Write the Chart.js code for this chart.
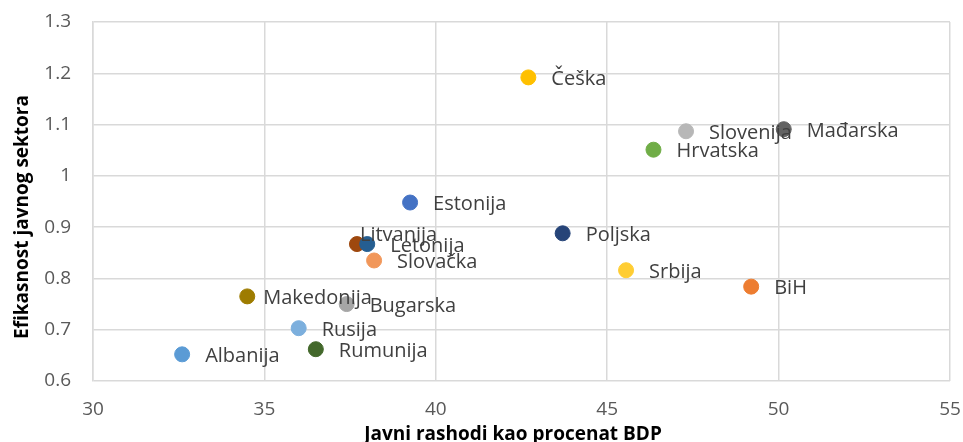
<!DOCTYPE html>
<html>
<head>
<meta charset="utf-8">
<script src="https://cdn.jsdelivr.net/npm/chart.js@4/dist/chart.umd.min.js"></script>
<style>
  html, body { margin: 0; padding: 0; background: #fff; }
  #wrap { width: 963px; height: 442px; }
</style>
</head>
<body>
<div id="wrap"><canvas id="eff"></canvas></div>
<script>
// data
var countries = ["Albanija", "Makedonija", "Rusija", "Rumunija", "Bugarska", "Litvanija", "Letonija", "Slovačka",
                 "Estonija", "Češka", "Poljska", "Srbija", "Hrvatska", "Slovenija", "Mađarska", "BiH"];
var spending = [32.6, 34.5, 36.0, 36.5, 37.4, 37.7, 38.0, 38.2, 39.25, 42.7, 43.7, 45.55, 46.35, 47.3, 50.15, 49.2];
var efficiency = [0.652, 0.765, 0.703, 0.662, 0.75, 0.867, 0.867, 0.835, 0.948, 1.192, 0.888, 0.816, 1.051, 1.087, 1.091, 0.784];
var xTicks = [30, 35, 40, 45, 50, 55];
var yTicks = [0.6, 0.7, 0.8, 0.9, 1, 1.1, 1.2, 1.3];
var xTitle = 'Javni rashodi kao procenat BDP';
var yTitle = 'Efikasnost javnog sektora';

var pointColors = ['#5B9BD5', '#9E7C00', '#7CAFDD', '#43682B', '#A5A5A5', '#9E480E', '#255E91', '#F1975A',
                   '#4472C4', '#FFC000', '#264478', '#FFCD33', '#70AD47', '#B7B7B7', '#636363', '#ED7D31'];

// label nudges (Excel had a couple moved by hand)
var labelShift = { 1: [-7, 0], 5: [-20, -11] };

var pointLabels = {
    id: 'pointLabels',
    afterDatasetsDraw: function (chart) {
        var c = chart.ctx;
        var meta = chart.getDatasetMeta(0);
        c.save();
        c.font = '20px "Open Sans"';
        c.fillStyle = '#404040';
        c.textBaseline = 'middle';
        meta.data.forEach(function (pt, i) {
            var s = labelShift[i] || [0, 0];
            c.fillText(countries[i], pt.x + 23 + s[0], pt.y + 2 + s[1]);
        });
        c.restore();
    }
};

// axis titles drawn by hand, they sit off-centre in the original
var axisTitles = {
    id: 'axisTitles',
    afterDraw: function (chart) {
        var c = chart.ctx;
        c.save();
        c.font = 'bold 19px "Open Sans"';
        c.fillStyle = '#000';
        c.textAlign = 'center';
        c.textBaseline = 'alphabetic';
        c.fillText(xTitle, 513, 440);
        c.translate(28, 217);
        c.rotate(-Math.PI / 2);
        c.fillText(yTitle, 0, 0);
        c.restore();
    }
};

var ctx = document.getElementById('eff').getContext('2d');
var chart = new Chart(ctx, {
    type: 'scatter',
    data: {
        datasets: [{
            data: spending.map(function (x, i) { return { x: x, y: efficiency[i] }; }),
            backgroundColor: pointColors,
            borderColor: pointColors,
            pointRadius: 7.5,
            pointHoverRadius: 7.5
        }]
    },
    plugins: [pointLabels, axisTitles],
    options: {
        responsive: true,
        maintainAspectRatio: false,
        animation: false,
        layout: { padding: { top: 22, right: 13, left: 0, bottom: 0 } },
        plugins: {
            legend: { display: false },
            tooltip: { enabled: false }
        },
        scales: {
            x: {
                type: 'linear',
                min: 30, max: 55,
                afterBuildTicks: function (s) { s.ticks = xTicks.map(function (v) { return { value: v }; }); },
                afterFit: function (s) { s.height = 61; s.paddingLeft = 0; s.paddingRight = 0; },
                grid: { color: '#D9D9D9', lineWidth: 1.5, drawTicks: false },
                border: { display: false },
                ticks: { padding: 17, color: '#595959', font: { family: 'Open Sans', size: 19 } }
            },
            y: {
                min: 0.6, max: 1.3,
                afterBuildTicks: function (s) { s.ticks = yTicks.map(function (v) { return { value: v }; }); },
                afterFit: function (s) { s.width = 93; s.paddingTop = 0; s.paddingBottom = 0; },
                grid: { color: '#D9D9D9', lineWidth: 1.5, drawTicks: false },
                border: { display: true, color: '#D9D9D9', width: 1.5 },
                ticks: {
                    padding: 22, color: '#595959', font: { family: 'Open Sans', size: 19 },
                    callback: function (v) { return String(Math.round(v * 10) / 10); }
                }
            }
        }
    }
});
</script>
</body>
</html>
